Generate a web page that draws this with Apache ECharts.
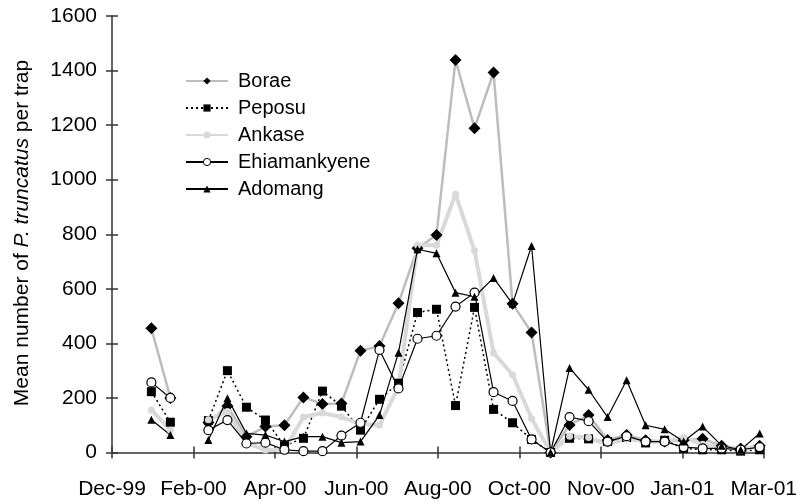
<!DOCTYPE html>
<html>
<head>
<meta charset="utf-8">
<script src="https://cdn.jsdelivr.net/npm/echarts@6/dist/echarts.min.js"></script>
<style>
html,body{margin:0;padding:0;background:#fff;}
#chart{width:800px;height:501px;}
</style>
</head>
<body>
<div id="chart"></div>
<script>
// Sampling dates (biweekly); 2000-02-01 had no data
var sampleDates = ['2000-01-04','2000-01-18','2000-02-01','2000-02-15','2000-02-29','2000-03-14','2000-03-28','2000-04-11','2000-04-25','2000-05-09','2000-05-23','2000-06-06','2000-06-20','2000-07-04','2000-07-18','2000-08-01','2000-08-15','2000-08-29','2000-09-12','2000-09-26','2000-10-10','2000-10-24','2000-11-07','2000-11-21','2000-12-05','2000-12-19','2001-01-02','2001-01-16','2001-01-30','2001-02-13','2001-02-27','2001-03-13','2001-03-27'];

var borae        = [455,200,null,110,170,58,95,100,202,178,180,373,390,547,749,797,1439,1189,1393,545,440,0,101,137,46,64,45,40,45,50,25,15,25];
var peposu       = [223,111,null,117,300,166,119,25,52,225,170,82,195,254,513,525,172,532,158,109,48,0,52,50,40,55,35,45,15,10,10,5,10];
var ankase       = [156,82,null,120,150,35,9,10,130,145,130,105,100,240,760,760,947,740,365,285,125,0,60,55,30,50,40,40,55,30,20,15,20];
var ehiamankyene = [257,200,null,82,119,33,36,10,5,5,62,109,376,235,417,428,535,586,221,189,48,0,130,115,40,60,40,40,20,15,15,10,20];
var adomang      = [120,64,null,46,199,70,64,40,58,58,36,40,137,366,745,730,586,571,640,545,757,0,310,230,130,265,100,85,40,95,25,10,70];

var seriesNames = ['Borae','Peposu','Ankase','Ehiamankyene','Adomang'];
var yTicks = [0,200,400,600,800,1000,1200,1400,1600];
var axisStart = '1999-12-06';   // x-axis origin (label "Dec-99")
var monthNames = ['Jan','Feb','Mar','Apr','May','Jun','Jul','Aug','Sep','Oct','Nov','Dec'];

var DAY = 86400000;
function parseD(s){var p=s.split('-');return Date.UTC(+p[0],+p[1]-1,+p[2]);}
var t0 = parseD(axisStart);
function dayOf(s){return Math.round((parseD(s)-t0)/DAY);}
function pairs(vals){return sampleDates.map(function(d,i){return [dayOf(d), vals[i]];});}
function fmt(v){var d=new Date(t0+v*DAY);return monthNames[d.getUTCMonth()]+'-'+String(d.getUTCFullYear()%100).padStart(2,'0');}

var FONT = 'Liberation Sans, Arial, sans-serif';
var chart = echarts.init(document.getElementById('chart'), null, {renderer:'canvas'});
var axisCol = '#333';
var legendData = seriesNames.map(function(n){
  return n === 'Ehiamankyene' ? {name:n, itemStyle:{borderWidth:1, borderColor:'#000', color:'#fff'}} : {name:n};
});
chart.setOption({
  animation:false,
  backgroundColor:'#fff',
  textStyle:{fontFamily:FONT},
  grid:{left:112,right:32,top:16,bottom:48.5,containLabel:false},
  legend:{
    orient:'vertical', left:180, top:66,
    itemWidth:42, itemHeight:9, itemGap:7,
    data:legendData,
    textStyle:{fontFamily:FONT,fontSize:20,color:'#000',lineHeight:20,padding:[0,0,0,5]}
  },
  xAxis:[{
    type:'value', min:0, max:480, interval:60,
    axisLine:{lineStyle:{color:axisCol,width:1.5}},
    axisTick:{length:6,lineStyle:{color:axisCol,width:1.5}},
    splitLine:{show:false},
    axisLabel:{margin:26,fontSize:21,color:'#000',fontFamily:FONT,formatter:fmt}
  },{
    type:'value', min:0, max:480, interval:60, position:'bottom',
    axisLine:{show:false},
    axisTick:{inside:true,length:6,lineStyle:{color:axisCol,width:1.5}},
    axisLabel:{show:false}, splitLine:{show:false}
  }],
  yAxis:[{
    type:'value', min:yTicks[0], max:yTicks[yTicks.length-1], interval:200,
    axisLine:{show:true,lineStyle:{color:axisCol,width:1.5}},
    axisTick:{show:true,length:6,lineStyle:{color:axisCol,width:1.5}},
    splitLine:{show:false},
    axisLabel:{margin:15,fontSize:21,color:'#000',fontFamily:FONT,formatter:function(v){return String(v);}}
  },{
    type:'value', min:yTicks[0], max:yTicks[yTicks.length-1], interval:200, position:'left',
    axisLine:{show:false},
    axisTick:{show:true,inside:true,length:6,lineStyle:{color:axisCol,width:1.5}},
    axisLabel:{show:false}, splitLine:{show:false}
  }],
  graphic:[{
    type:'text', x:22, y:233, rotation:Math.PI/2,
    style:{
      text:'{a|Mean number of }{b|P. truncatus}{a| per trap}',
      align:'center', verticalAlign:'middle',
      rich:{
        a:{fontSize:21,fontFamily:FONT,fill:'#000'},
        b:{fontSize:21,fontFamily:FONT,fontStyle:'italic',fill:'#000'}
      }
    }
  }],
  series:[
    {name:'Borae',type:'line',data:pairs(borae),symbol:'diamond',symbolSize:12,
     lineStyle:{color:'#bdbdbd',width:2.5},itemStyle:{color:'#000'}},
    {name:'Peposu',type:'line',data:pairs(peposu),symbol:'rect',symbolSize:9,
     lineStyle:{color:'#000',width:1.5,type:[2,3]},itemStyle:{color:'#000'}},
    {name:'Ankase',type:'line',data:pairs(ankase),symbol:'circle',symbolSize:7,
     lineStyle:{color:'#d9d9d9',width:4},itemStyle:{color:'#d9d9d9'}},
    {name:'Ehiamankyene',type:'line',data:pairs(ehiamankyene),symbol:'circle',symbolSize:9,
     lineStyle:{color:'#000',width:1.2},itemStyle:{color:'#fff',borderColor:'#000',borderWidth:1.2}},
    {name:'Adomang',type:'line',data:pairs(adomang),symbol:'triangle',symbolSize:8,
     lineStyle:{color:'#000',width:1.2},itemStyle:{color:'#000'}}
  ]
});
</script>
</body>
</html>
